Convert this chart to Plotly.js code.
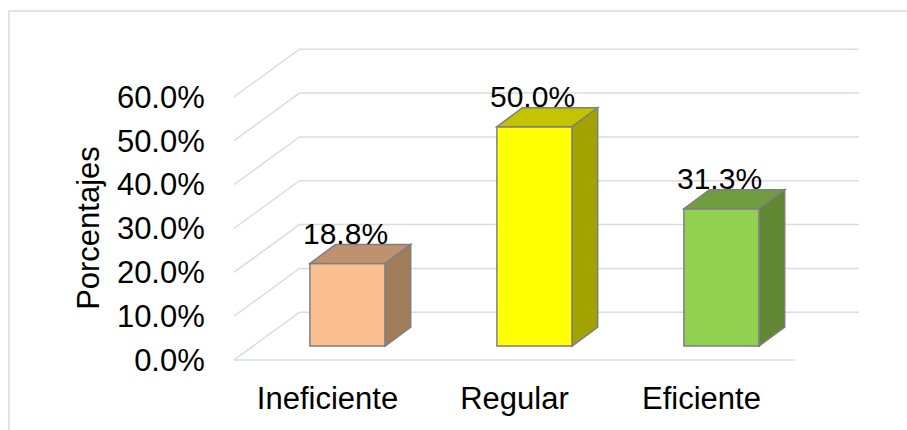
<!DOCTYPE html>
<html>
<head>
<meta charset="utf-8">
<script src="https://cdn.plot.ly/plotly-3.0.1.min.js"></script>
<style>html,body{margin:0;padding:0;background:#fff;}#chart{width:907px;height:430px;}</style>
</head>
<body>
<div id="chart"></div>
<script>
// ---- data ----
const categories = ['Ineficiente', 'Regular', 'Eficiente'];
const values = [18.8, 50.0, 31.3];
const tickVals = [0, 10, 20, 30, 40, 50, 60];
const tickText = ['0.0%', '10.0%', '20.0%', '30.0%', '40.0%', '50.0%', '60.0%'];
const frontColors = ['#FAC090', '#FFFF00', '#92D050'];
const topColors = ['#BF916F', '#C3C300', '#6F9D40'];
const sideColors = ['#A07C5B', '#A3A300', '#5F8734'];

// ---- geometry (pseudo-3D oblique projection) ----
const PXX = 187, PXY = 4.385;           // px per category / per percent
const plotW = 625, plotH = 368;
const xMin = -0.5, xMax = -0.5 + plotW / PXX;
const yMin = -52 / PXY, yMax = yMin + plotH / PXY;
const floorDx = 65.5 / PXX, floorDy = 47.7 / PXY;   // back wall offset
const barBase = 14 / PXY;                            // bar front plane offset
const barW = 75.3 / PXX, barOff = -0.094;
const ddx = 25.5 / PXX, ddy = 19 / PXY;              // bar depth
const gridColor = '#D9DCE2', edgeColor = '#7F7F7F';
const FONT = 'Liberation Sans, Arial, sans-serif';

const shapes = [];
// chart area border
shapes.push({type: 'rect', xref: 'paper', yref: 'paper', x0: (9 - 234) / plotW, x1: 1.2,
  y0: -0.2, y1: (412 - 11) / plotH, line: {color: '#D9D9D9', width: 1.5}, layer: 'below'});
// wall gridlines + side diagonals
tickVals.forEach(v => {
  shapes.push({type: 'path', xref: 'x', yref: 'y', layer: 'below',
    path: `M ${xMin},${v} L ${xMin + floorDx},${v + floorDy} L ${xMax},${v + floorDy}`,
    line: {color: gridColor, width: 1.5}});
});
// front floor edge
shapes.push({type: 'line', xref: 'x', yref: 'y', layer: 'below', x0: xMin, x1: categories.length - 0.5,
  y0: tickVals[0], y1: tickVals[0], line: {color: gridColor, width: 1.5}});

// bar top & side faces
const annotations = [];
values.forEach((v, i) => {
  const xL = i + barOff, xR = xL + barW, yb = barBase, yt = barBase + v;
  shapes.push({type: 'path', xref: 'x', yref: 'y', layer: 'above',
    path: `M ${xL},${yt} L ${xR},${yt} L ${xR + ddx},${yt + ddy} L ${xL + ddx},${yt + ddy} Z`,
    fillcolor: topColors[i], line: {color: edgeColor, width: 1.5}});
  shapes.push({type: 'path', xref: 'x', yref: 'y', layer: 'above',
    path: `M ${xR},${yb} L ${xR},${yt} L ${xR + ddx},${yt + ddy} L ${xR + ddx},${yb + ddy} Z`,
    fillcolor: sideColors[i], line: {color: edgeColor, width: 1.5}});
  annotations.push({xref: 'x', yref: 'y', x: xL + barW / 2, y: yt + ddy, yanchor: 'bottom',
    yshift: -7, xshift: -2, showarrow: false, text: v.toFixed(1) + '%',
    font: {family: FONT, size: 30, color: '#000'}});
});

const trace = {
  type: 'bar',
  x: categories.map((c, i) => i),
  y: values,
  base: values.map(() => barBase),
  width: barW,
  offset: barOff,
  marker: {color: frontColors, line: {color: edgeColor, width: 1.5}},
  hoverinfo: 'skip',
  cliponaxis: false
};

const layout = {
  width: 907, height: 430,
  margin: {l: 234, r: 48, t: 44, b: 18},
  paper_bgcolor: '#fff', plot_bgcolor: 'rgba(0,0,0,0)',
  showlegend: false,
  font: {family: FONT, size: 31, color: '#000'},
  xaxis: {
    range: [xMin, xMax], tickvals: categories.map((c, i) => i), ticktext: categories,
    anchor: 'free', position: (-yMin) / (yMax - yMin),
    showgrid: false, zeroline: false, showline: false,
    ticks: 'outside', ticklen: 11, tickcolor: 'rgba(0,0,0,0)',
    tickfont: {family: FONT, size: 31, color: '#000'}, fixedrange: true
  },
  yaxis: {
    range: [yMin, yMax], tickvals: tickVals, ticktext: tickText,
    showgrid: false, zeroline: false, showline: false,
    ticks: 'outside', ticklen: 22, tickcolor: 'rgba(0,0,0,0)',
    tickfont: {family: FONT, size: 31, color: '#000'},
    title: {text: 'Porcentajes', font: {family: FONT, size: 31, color: '#000'}, standoff: 8},
    fixedrange: true
  },
  shapes: shapes,
  annotations: annotations
};

Plotly.newPlot('chart', [trace], layout, {displayModeBar: false, staticPlot: true});
</script>
</body>
</html>
